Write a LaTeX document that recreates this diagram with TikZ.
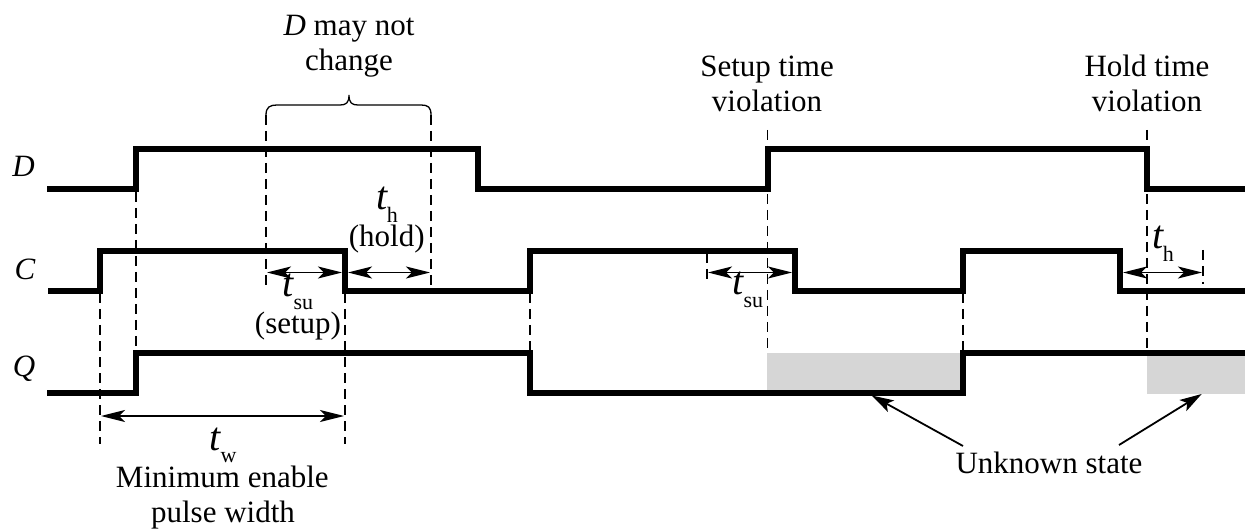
\documentclass[tikz,border=0pt]{standalone}
\usepackage{fontspec}
\setmainfont{Liberation Serif}
\usetikzlibrary{arrows.meta}
\newcommand{\tsub}[1]{{\fontsize{40}{40}\selectfont\textit{t}}\kern-1pt\raisebox{-12.5pt}{\fontsize{22}{22}\selectfont #1}}
\tikzset{
  x=1pt,y=-1pt,
  wave/.style={line width=6pt,line join=miter,line cap=butt},
  guide/.style={line width=1.5pt,dash pattern=on 10pt off 6pt},
  span/.style={line width=1.5pt,{Stealth[length=24pt,width=12pt,inset=6pt]}-{Stealth[length=24pt,width=12pt,inset=6pt]}},
  pointer/.style={line width=1.8pt,-{Stealth[length=22pt,width=13pt,inset=5pt]}},
  txt/.style={anchor=base,inner sep=0pt,outer sep=0pt,font=\fontsize{31}{36}\selectfont},
  unknown/.style={fill=black!16,draw=none}
}
\begin{document}
\begin{tikzpicture}
\useasboundingbox (0,0) rectangle (1245,529);
% unknown regions
\fill[unknown] (767,353) rectangle (963,393);
\fill[unknown] (1147,353) rectangle (1245,394);
% guides
\draw[guide] (136,192) -- (136,353);
\draw[guide] (266,115) -- (266,288);
\draw[guide] (431,115) -- (431,288);
\draw[guide] (100,293) -- (100,444);
\draw[guide] (345,293) -- (345,444);
\draw[guide] (530,293) -- (530,350);
\draw[guide] (767.5,130) -- (767.5,353);
\draw[guide] (963,293) -- (963,350);
\draw[guide] (1147,130) -- (1147,350);
\draw[guide] (707,253) -- (707,284);
\draw[guide] (1203,250) -- (1203,284);
% waveforms
\draw[wave] (47,189) -- (136,189) -- (136,149) -- (478,149) -- (478,189) -- (768,189) -- (768,149) -- (1147,149) -- (1147,189) -- (1245,189);
\draw[wave] (48,291) -- (100,291) -- (100,251) -- (345,251) -- (345,291) -- (530,291) -- (530,251) -- (795,251) -- (795,291) -- (963,291) -- (963,251) -- (1120,251) -- (1120,291) -- (1245,291);
\draw[wave] (47,393) -- (136,393) -- (136,353) -- (530,353) -- (530,393) -- (963,393) -- (963,353) -- (1245,353);
% brace
\draw[line width=1.3pt] (266,115) .. controls (266,107) and (270,105) .. (277,105) -- (340,105) .. controls (346,105) and (349,103) .. (349,95) .. controls (349,103) and (352,105) .. (358,105) -- (421,105) .. controls (428,105) and (431,107) .. (431,115);
% spans
\coordinate (su1a) at (267,272.5); \coordinate (su1b) at (342,272.5);
\coordinate (h1a) at (348,272.5); \coordinate (h1b) at (430,272.5);
\coordinate (wa) at (101,416); \coordinate (wb) at (344,416);
\coordinate (su2a) at (708,272.5); \coordinate (su2b) at (792,272.5);
\coordinate (h2a) at (1123,272.5); \coordinate (h2b) at (1202,272.5);
\draw[span] (su1a) -- (su1b);
\draw[span] (h1a) -- (h1b);
\draw[span] (wa) -- (wb);
\draw[span] (su2a) -- (su2b);
\draw[span] (h2a) -- (h2b);
% labels
\node[txt] (lD) at (23.5,176.7) {\textit{D}};
\node[txt] (lC) at (25,279.3) {\textit{C}};
\node[txt] (lQ) at (24,376.7) {\textit{Q}};
\node[txt] (dm1) at (349,35.5) {\textit{D} may not};
\node[txt] (dm2) at (349,71) {change};
\node[txt] (th1) at (387,210) {\tsub{h}};
\node[txt] (hold) at (386.7,246.7) {(hold)};
\node[txt] (tsu1) at (298,296.7) {\tsub{su}};
\node[txt] (setup) at (298,334) {(setup)};
\node[txt] (tw) at (223,450) {\tsub{w}};
\node[txt] (me1) at (222.3,487.3) {Minimum enable};
\node[txt] (me2) at (223,522) {pulse width};
\node[txt] (sv1) at (767,77) {Setup time};
\node[txt] (sv2) at (767,112) {violation};
\node[txt] (hv1) at (1147,77) {Hold time};
\node[txt] (hv2) at (1147,112) {violation};
\node[txt] (th2) at (1163,249) {\tsub{h}};
\node[txt] (tsu2) at (748,295) {\tsub{su}};
\node[txt] (unk) at (1049,473) {Unknown state};
% pointers
\coordinate (p1s) at (963,446); \coordinate (p1e) at (871.7,395.5);
\coordinate (p2s) at (1119,445); \coordinate (p2e) at (1201.7,394);
\draw[pointer] (p1s) -- (p1e);
\draw[pointer] (p2s) -- (p2e);
\end{tikzpicture}
\end{document}
